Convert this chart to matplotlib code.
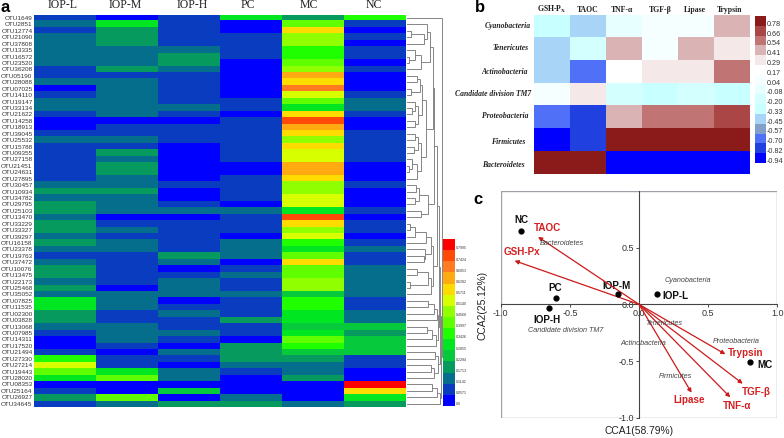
#!/usr/bin/env python3
import numpy as np
import matplotlib
matplotlib.use("Agg")
import matplotlib.pyplot as plt
from matplotlib.colors import ListedColormap, BoundaryNorm
from matplotlib.patches import Rectangle

W, H = 784, 438

# panel a: abundance heatmap, values are colour-band numbers 0-14 per row
otu_labels = [
    "OTU1649", "OTU2851", "OTU12774", "OTU21090", "OTU37808", "OTU13335", "OTU16572", "OTU23520",
    "OTU36208", "OTU05190", "OTU28088", "OTU07025", "OTU14110", "OTU19147", "OTU33134", "OTU21622",
    "OTU14258", "OTU18913", "OTU39045", "OTU25532", "OTU15788", "OTU09355", "OTU27158", "OTU21451",
    "OTU24631", "OTU27895", "OTU30457", "OTU10934", "OTU34782", "OTU29795", "OTU25103", "OTU13470",
    "OTU33229", "OTU33327", "OTU39297", "OTU16158", "OTU23378", "OTU19763", "OTU37472", "OTU10076",
    "OTU13475", "OTU22173", "OTU25468", "OTU35052", "OTU07825", "OTU11535", "OTU02300", "OTU03828",
    "OTU13068", "OTU07985", "OTU14311", "OTU17520", "OTU21494", "OTU27330", "OTU27214", "OTU19443",
    "OTU28020", "OTU08353", "OTU25164", "OTU26927", "OTU34645",
]
groups_a = ["IOP-L", "IOP-M", "IOP-H", "PC", "MC", "NC"]
iop_l = [1, 2, 1, 2, 2, 2, 2, 2, 1, 1, 2, 0, 1, 2, 2, 1, 0, 0, 1, 2, 1, 1, 1, 1, 1, 1, 2, 3, 2, 3, 3,
         2, 3, 3, 2, 3, 2, 1, 2, 3, 3, 2, 3, 2, 5, 5, 3, 3, 2, 1, 0, 0, 1, 6, 9, 7, 5, 0, 1, 3, 1]
iop_m = [0, 5, 3, 3, 3, 2, 2, 2, 3, 1, 2, 2, 2, 2, 2, 2, 0, 1, 1, 2, 1, 3, 2, 3, 3, 2, 2, 3, 2, 2, 2,
         0, 1, 2, 1, 2, 2, 1, 1, 1, 1, 1, 0, 2, 2, 2, 1, 1, 2, 2, 2, 1, 0, 1, 1, 5, 7, 0, 0, 7, 2]
iop_h = [1, 1, 1, 1, 1, 2, 3, 3, 2, 1, 1, 1, 1, 1, 2, 1, 0, 1, 1, 1, 0, 0, 0, 0, 0, 0, 1, 0, 0, 1, 2,
         0, 1, 1, 1, 1, 1, 3, 2, 0, 1, 2, 2, 2, 0, 1, 2, 1, 1, 2, 1, 0, 2, 1, 0, 2, 2, 0, 4, 0, 3]
pc = [5, 0, 0, 1, 1, 1, 1, 0, 0, 0, 0, 0, 0, 1, 1, 0, 1, 1, 1, 1, 1, 1, 1, 0, 0, 1, 1, 1, 1, 0, 2,
      1, 1, 1, 0, 2, 2, 2, 0, 1, 2, 1, 1, 2, 1, 1, 1, 3, 1, 1, 0, 3, 3, 3, 2, 1, 0, 0, 0, 2, 3]
mc = [3, 7, 10, 8, 8, 6, 6, 7, 8, 11, 10, 12, 9, 7, 5, 10, 13, 11, 10, 8, 10, 9, 9, 11, 11, 10, 8, 8,
      9, 9, 5, 13, 10, 8, 9, 6, 5, 7, 10, 7, 7, 8, 8, 4, 6, 6, 5, 5, 4, 5, 7, 6, 4, 3, 2, 2, 3, 0, 0, 0, 2]
nc = [6, 1, 0, 1, 0, 1, 1, 0, 1, 0, 0, 0, 1, 2, 2, 1, 0, 0, 1, 1, 1, 1, 1, 0, 0, 0, 1, 0, 0, 0, 1,
      0, 1, 1, 0, 1, 2, 1, 1, 2, 2, 2, 2, 2, 1, 1, 2, 2, 4, 3, 4, 4, 4, 1, 1, 0, 0, 14, 10, 5, 3]
colors_a = ["#0000ff", "#0a3cc0", "#056e8c", "#079a5e", "#06c93c", "#00e620", "#20ff00", "#60ff00",
            "#90ff00", "#d8ff00", "#ffdc00", "#ffaa10", "#ff7a20", "#ff4a08", "#ff0000"]
ticks_a = [0.0, 0.0571, 0.1142, 0.1713, 0.2284, 0.2855, 0.3426, 0.3997, 0.4568, 0.5140,
           0.5711, 0.6282, 0.6853, 0.7424, 0.7995]

# dendrogram as nested (height, upper, lower); 0 is a leaf, leaves run in row order
t1 = (20, 0, (17, (4, 0, 0), 0))
t2 = (14, (8, 0, (2, 0, 0)), 0)
b12 = (15, (13, (10, 0, 0), (4, 0, 0)), (11, (8, 0, (5, 0, 0)), (8, 0, 0)))
b456 = (14, (11, (8, 0, 0), (7, 0, 0)), (10, (5, 0, (2, 0, 0)), 0))
c_part = (21, (12, (9, 0, 0), (8, 0, 0)), (14, 0, 0))
d_part = (24, (19, (8, (3, 0, 0), 0), 0), (18, 0, (17, 0, 0)))
e_part = (24, (21, (10, 0, 0), (3, 0, 0)), 0)
f_part = (27, (21, 0, 0), 0)
h_part = (29, (25, (20, 0, 0), 0), 0)
i_part = (31, (28, 0, 0), (27, (24, 0, 0), 0))
j_part = (33, (30, (25, 0, 0), 0), 0)
upper = (27, (26, (23, t1, t2), (19, b12, b456)), c_part)
middle = (30.5, (29.5, f_part, 0), h_part)
tree = (34.5, 0, (33.5, (32.5, (31.5, (30, upper, (25.5, d_part, e_part)), middle), i_part), j_part))

# panel b: correlation heatmap
taxa = ["Cyanobacteria", "Tenericutes", "Actinobacteria", "Candidate division TM7",
        "Proteobacteria", "Firmicutes", "Bacteroidetes"]
factors = ["GSH-P$\\mathbf{_X}$", "TAOC", "TNF-α", "TGF-β", "Lipase", "Trypsin"]
corr = [
    [-0.33, -0.45, -0.08, 0.04, 0.04, 0.41],
    [-0.45, -0.20, 0.41, 0.04, 0.41, 0.29],
    [-0.45, -0.70, 0.17, 0.29, 0.29, 0.54],
    [0.04, 0.29, -0.20, -0.33, -0.20, -0.33],
    [-0.70, -0.82, 0.41, 0.54, 0.54, 0.66],
    [-0.94, -0.82, 0.78, 0.78, 0.78, 0.78],
    [0.78, 0.78, -0.94, -0.94, -0.94, -0.94],
]
ticks_b = [-0.94, -0.82, -0.70, -0.57, -0.45, -0.33, -0.20, -0.08, 0.04, 0.17, 0.29, 0.41, 0.54, 0.66, 0.78]
colors_b = ["#0000ff", "#2040e0", "#5070f8", "#80a0c8", "#a8d4f8", "#c8ffff", "#d4ffff", "#e8ffff",
            "#f6ffff", "#ffffff", "#f5e8e8", "#dab4b4", "#c07474", "#aa4646", "#8b1a1a"]

# panel c: CCA biplot
samples = ["NC", "PC", "IOP-H", "IOP-M", "IOP-L", "MC"]
sample_x = [-0.85, -0.60, -0.65, -0.155, 0.13, 0.80]
sample_y = [0.65, 0.06, -0.035, 0.09, 0.09, -0.51]
sample_text_x = [-0.853, -0.603, -0.663, -0.161, 0.262, 0.913]
sample_text_y = [0.748, 0.148, -0.136, 0.163, 0.077, -0.537]
env_names = ["TAOC", "GSH-Px", "Trypsin", "TGF-β", "TNF-α", "Lipase"]
env_x = [-0.73, -0.90, 0.625, 0.75, 0.66, 0.38]
env_y = [0.595, 0.385, -0.44, -0.70, -0.82, -0.78]
env_text_x = [-0.66, -0.85, 0.774, 0.846, 0.707, 0.365]
env_text_y = [0.677, 0.463, -0.433, -0.774, -0.896, -0.846]
species = ["Bacteroidetes", "Cyanobacteria", "Tenericutes", "Proteobacteria", "Actinobacteria",
           "Firmicutes", "Candidate division TM7"]
species_x = [-0.56, 0.353, 0.18, 0.702, 0.034, 0.262, -0.529]
species_y = [0.54, 0.208, -0.172, -0.332, -0.341, -0.638, -0.234]


def px_axes(fig, x0, y0, x1, y1):
    return fig.add_axes([x0 / W, 1 - y1 / H, (x1 - x0) / W, (y1 - y0) / H])


def fig_text(fig, x, y, s, **kw):
    kw.setdefault("ha", "center")
    kw.setdefault("va", "center")
    fig.text(x / W, 1 - y / H, s, **kw)


def draw_tree(ax, node, row=None):
    # returns (height, y) of the node, row is a one-item counter
    if row is None:
        row = [0]
    if node == 0:
        row[0] += 1
        return 0, row[0] - 0.5
    h, a, b = node
    ha, ya = draw_tree(ax, a, row)
    hb, yb = draw_tree(ax, b, row)
    ax.plot([ha, h, h, hb], [ya, ya, yb, yb], color="#858585", lw=0.7, solid_joinstyle="miter")
    return h, (ya + yb) / 2


def band_colorbar(fig, box, colors, ticks, fmt, fontsize, offset):
    # bands sit so that each label lands a little under the band centre
    ax = px_axes(fig, *box)
    n = len(colors)
    ax.imshow(np.arange(n)[:, None], cmap=ListedColormap(colors), origin="lower", aspect="auto",
              extent=[0, 1, -0.5, n - 0.5], interpolation="nearest")
    ax.set_xticks([])
    ax.yaxis.tick_right()
    ax.set_yticks(np.arange(n) - offset)
    ax.set_yticklabels([fmt(t) for t in ticks], fontsize=fontsize, color="#333333")
    ax.tick_params(axis="y", length=0, pad=1)
    for s in ax.spines.values():
        s.set_visible(False)
    return ax


def panel_a(fig):
    ax = px_axes(fig, 34, 14.7, 405.7, 407)
    data = np.array([iop_l, iop_m, iop_h, pc, mc, nc]).T
    ax.imshow(data, cmap=ListedColormap(colors_a), vmin=-0.5, vmax=14.5, aspect="auto",
              interpolation="nearest")
    ax.set_xticks([])
    ax.set_yticks(np.arange(len(otu_labels)))
    ax.set_yticklabels(otu_labels, fontsize=4.6, color="#333333", family="Liberation Sans")
    ax.tick_params(axis="y", length=0, pad=1)
    for s in ax.spines.values():
        s.set_visible(False)
    for name, x in zip(groups_a, [63, 125, 192, 248, 309, 374]):
        fig_text(fig, x, 5, name, fontsize=8.5, family="Liberation Serif", color="#222222")

    den = px_axes(fig, 407, 14.7, 443, 407)
    draw_tree(den, tree)
    den.set_xlim(0, 36)
    den.set_ylim(len(otu_labels), 0)
    den.axis("off")

    band_colorbar(fig, (442.7, 239, 454.3, 406), colors_a, ticks_a,
                  lambda t: "0.0" if t == 0 else f"{t:.4f}", 2.6, 0.3)


def panel_b(fig):
    ax = px_axes(fig, 533.5, 14.7, 749, 174.3)
    bounds = [ticks_b[0] - 0.06] + [(a + b) / 2 for a, b in zip(ticks_b, ticks_b[1:])] + [ticks_b[-1] + 0.06]
    ax.imshow(corr, cmap=ListedColormap(colors_b), norm=BoundaryNorm(bounds, len(colors_b)),
              aspect="auto", interpolation="nearest")
    ax.axis("off")
    for name, x in zip(factors, [552, 588, 622, 660, 695, 730]):
        fig_text(fig, x, 9.5, name, fontsize=5.6, family="Liberation Serif", weight="bold", color="#222222")
    right_ends = [531, 529, 528, 531, 529, 525, 525]
    label_rows = [25.7, 48, 72, 94, 116, 142, 165]
    for name, x, y in zip(taxa, right_ends, label_rows):
        fig_text(fig, x, y, name, fontsize=5.5, ha="right",
                 family="Liberation Serif", weight="bold", style="italic", color="#222222")
    band_colorbar(fig, (755, 16, 765.7, 162.7), colors_b, ticks_b, lambda t: f"{t:.2f}", 5.2, 0.25)


def panel_c(fig):
    ax = px_axes(fig, 500.7, 191, 777.3, 417.7)
    ax.set_xlim(-1, 1)
    ax.set_ylim(-1, 1)
    ax.patch.set_visible(False)
    ax.add_patch(Rectangle((0, 0), 1, 1, transform=ax.transAxes, fill=False, ec="#a0a0a8", lw=1.0))
    ax.spines["left"].set_position(("data", 0))
    ax.spines["bottom"].set_position(("data", 0))
    ax.spines["top"].set_visible(False)
    ax.spines["right"].set_visible(False)
    ax.spines["left"].set_color("#444444")
    ax.spines["bottom"].set_color("#444444")
    ax.set_xticks([-1, -0.5, 0, 0.5, 1])
    ax.set_yticks([-1, -0.5, 0, 0.5])
    ax.set_xticklabels(["-1.0", "-0.5", "0.0", "0.5", "1.0"])
    ax.set_yticklabels(["-1.0", "-0.5", "0.0", "0.5"])
    ax.tick_params(labelsize=6.5, colors="#333333", length=2, width=0.6, pad=1.5)

    ax.scatter(sample_x, sample_y, s=12, color="black", zorder=4)
    for name, x, y in zip(samples, sample_text_x, sample_text_y):
        ax.text(x, y, name, fontsize=7.1, weight="bold", ha="center", va="center", color="#111111",
                family="Liberation Sans")
    for name, x, y, tx, ty in zip(env_names, env_x, env_y, env_text_x, env_text_y):
        ax.annotate("", xy=(x, y), xytext=(0, 0),
                    arrowprops=dict(arrowstyle="-|>", color="#cc1a1a", lw=0.9, mutation_scale=6,
                                    shrinkA=0, shrinkB=0))
        ax.text(tx, ty, name, fontsize=7.1, weight="bold", ha="center", va="center", color="#d42020",
                family="Liberation Sans")
    for name, x, y in zip(species, species_x, species_y):
        ax.text(x, y, name, fontsize=5.2, style="italic", ha="center", va="center", color="#444444",
                family="Liberation Sans")
    fig_text(fig, 639, 431, "CCA1(58.79%)", fontsize=7.4, color="#222222", family="Liberation Sans")
    fig_text(fig, 483, 305, "CCA2(25.12%)", fontsize=7.4, color="#222222", rotation=90, family="Liberation Sans")


def main():
    plt.rcParams["font.family"] = ["Liberation Sans", "DejaVu Sans"]
    plt.rcParams["axes.unicode_minus"] = False
    plt.rcParams["mathtext.fontset"] = "stix"
    fig = plt.figure(figsize=(W / 100, H / 100), dpi=100)
    panel_a(fig)
    panel_b(fig)
    panel_c(fig)
    fig_text(fig, 5.5, 8, "a", fontsize=12, weight="bold")
    fig_text(fig, 480, 7, "b", fontsize=12, weight="bold")
    fig_text(fig, 478, 199, "c", fontsize=12, weight="bold")
    fig.savefig("out.png", dpi=100)


if __name__ == "__main__":
    main()
